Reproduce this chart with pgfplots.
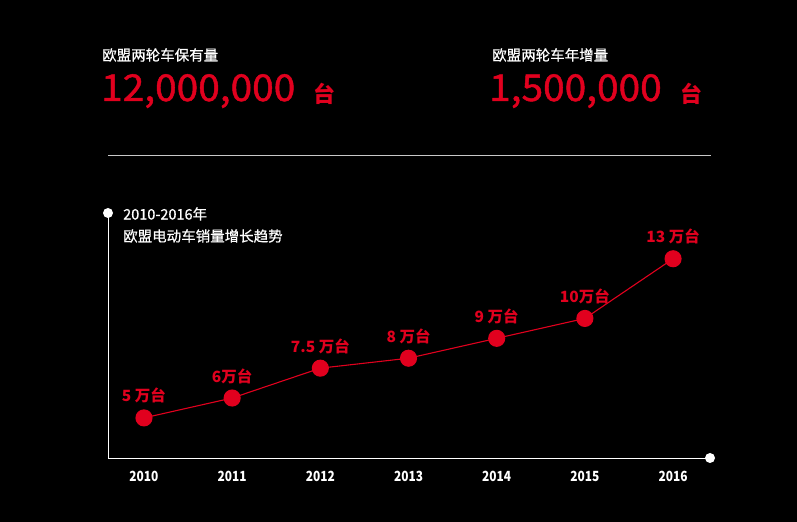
\documentclass[border=0pt]{standalone}
\usepackage{pgfplots}
\pgfplotsset{compat=1.18}
\usepackage{fontspec}
\usepackage{graphicx}
\newfontfamily\cjk{Noto Sans CJK SC}
\newfontfamily\cjkmed[FakeBold=0.7]{Noto Sans CJK SC}
\newfontfamily\bignum[FakeStretch=1.05,FakeBold=1.2]{Noto Sans CJK SC}
\newfontfamily\cjknarrow[FakeStretch=0.85]{Noto Sans CJK SC}
\definecolor{myred}{HTML}{E1001E}
\definecolor{linegray}{RGB}{200,200,200}
\begin{document}
\begin{tikzpicture}[x=1bp,y=1bp]
\fill[black] (0,0) rectangle (797,522);
\useasboundingbox (0,0) rectangle (797,522);
% headline figures
\node[anchor=west,text=white,inner sep=0,font=\cjkmed\fontsize{14.5bp}{16bp}\selectfont] at (102,467) {欧盟两轮车保有量};
\node[anchor=west,text=white,inner sep=0,font=\cjkmed\fontsize{14.5bp}{16bp}\selectfont] at (492,467) {欧盟两轮车年增量};
\node[anchor=base west,text=myred,inner sep=0,font=\bignum\fontsize{37bp}{40bp}\selectfont] at (101,421) {12,000,000};
\node[anchor=base west,text=myred,inner sep=0,font=\cjk\bfseries\fontsize{22bp}{24bp}\selectfont] at (313,419) {台};
\node[anchor=base west,text=myred,inner sep=0,font=\bignum\fontsize{37bp}{40bp}\selectfont] at (489,421) {1,500,000};
\node[anchor=base west,text=myred,inner sep=0,font=\cjk\bfseries\fontsize{22bp}{24bp}\selectfont] at (680,419) {台};
\draw[linegray,line width=0.8bp] (108,367) -- (711,367);
% subtitle
\node[anchor=west,text=white,inner sep=0,font=\cjkmed\fontsize{14.5bp}{16bp}\selectfont] at (123,308) {2010-2016年};
\node[anchor=west,text=white,inner sep=0,font=\cjkmed\fontsize{14.5bp}{16bp}\selectfont] at (123,286) {欧盟电动车销量增长趋势};
\begin{axis}[
  at={(108bp,64bp)}, anchor=south west,
  scale only axis, width=602bp, height=245bp,
  axis x line=bottom, axis y line=left,
  axis line style={white,-,line width=0.8bp},
  xmin=-0.408, xmax=6.419, ymin=2.985, ymax=15.30,
  ytick=\empty,
  xtick={0,1,2,3,4,5,6},
  xticklabels={2010,2011,2012,2013,2014,2015,2016},
  major tick length=0pt,
  xticklabel style={anchor=center, yshift=-18bp, text=white, font=\cjknarrow\bfseries\fontsize{14bp}{16bp}\selectfont},
  clip=false,
]
\addplot[myred, line width=1.1bp, mark=*, mark size=8bp, mark options={fill=myred, draw=myred},
  nodes near coords, point meta=explicit symbolic,
  every node near coord/.append style={anchor=center, yshift=22bp, text=myred, font=\cjk\bfseries\fontsize{15.5bp}{17bp}\selectfont}]
  table[meta=label, col sep=comma] {
x,y,label
0,5,5 万台
1,6,6万台
2,7.5,7.5 万台
3,8,8 万台
4,9,9 万台
5,10,10万台
6,13,13 万台
};
\fill[white] (axis cs:-0.408,15.30) circle (5bp);
\fill[white] (axis cs:6.419,2.985) circle (5bp);
\end{axis}
\end{tikzpicture}
\end{document}
